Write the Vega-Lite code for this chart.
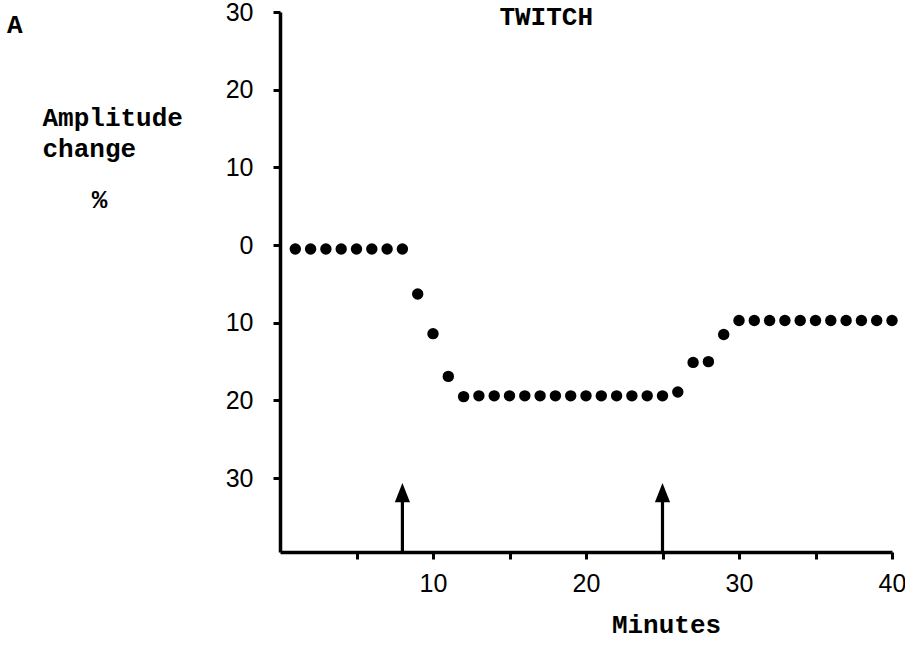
{
  "$schema": "https://vega.github.io/schema/vega-lite/v6.json",
  "width": 612,
  "height": 540,
  "autosize": {"type": "none"},
  "padding": {"left": 280, "top": 12, "right": 13, "bottom": 93},
  "background": "white",
  "title": {
    "text": "A",
    "anchor": "start",
    "frame": "group",
    "orient": "top",
    "dx": -273,
    "dy": 59,
    "offset": 0,
    "baseline": "alphabetic",
    "font": "Liberation Mono",
    "fontSize": 26,
    "fontWeight": "bold",
    "color": "black"
  },
  "config": {
    "view": {"stroke": null},
    "axis": {
      "grid": false,
      "domainColor": "black",
      "domainWidth": 3.5,
      "tickColor": "black",
      "tickWidth": 3,
      "tickSize": 7,
      "labelColor": "black",
      "labelFont": "Liberation Sans",
      "labelFontSize": 25,
      "titleColor": "black",
      "titleFont": "Liberation Mono",
      "titleFontSize": 26,
      "titleFontWeight": "bold"
    }
  },
  "datasets": {
    "points": [
      {"minute": 1, "change": -0.5},
      {"minute": 2, "change": -0.5},
      {"minute": 3, "change": -0.5},
      {"minute": 4, "change": -0.5},
      {"minute": 5, "change": -0.5},
      {"minute": 6, "change": -0.5},
      {"minute": 7, "change": -0.5},
      {"minute": 8, "change": -0.5},
      {"minute": 9, "change": -6.3},
      {"minute": 10, "change": -11.4},
      {"minute": 11, "change": -16.9},
      {"minute": 12, "change": -19.5},
      {"minute": 13, "change": -19.4},
      {"minute": 14, "change": -19.4},
      {"minute": 15, "change": -19.4},
      {"minute": 16, "change": -19.4},
      {"minute": 17, "change": -19.4},
      {"minute": 18, "change": -19.4},
      {"minute": 19, "change": -19.4},
      {"minute": 20, "change": -19.4},
      {"minute": 21, "change": -19.4},
      {"minute": 22, "change": -19.4},
      {"minute": 23, "change": -19.4},
      {"minute": 24, "change": -19.4},
      {"minute": 25, "change": -19.4},
      {"minute": 26, "change": -18.9},
      {"minute": 27, "change": -15.1},
      {"minute": 28, "change": -15.0},
      {"minute": 29, "change": -11.5},
      {"minute": 30, "change": -9.7},
      {"minute": 31, "change": -9.7},
      {"minute": 32, "change": -9.7},
      {"minute": 33, "change": -9.7},
      {"minute": 34, "change": -9.7},
      {"minute": 35, "change": -9.7},
      {"minute": 36, "change": -9.7},
      {"minute": 37, "change": -9.7},
      {"minute": 38, "change": -9.7},
      {"minute": 39, "change": -9.7},
      {"minute": 40, "change": -9.7}
    ],
    "arrows": [
      {"minute": 8, "base": -39.5, "top": -33, "tip": -31.85},
      {"minute": 25, "base": -39.5, "top": -33, "tip": -31.85}
    ],
    "labels": [
      {"label": "TWITCH", "minute": 17.4, "change": 28.3},
      {"label": "%", "minute": -11.8, "change": 4.8}
    ]
  },
  "layer": [
    {
      "data": {"name": "points"},
      "mark": {"type": "point", "shape": "circle", "filled": true, "size": 130, "color": "black", "opacity": 1},
      "encoding": {
        "x": {
          "field": "minute",
          "type": "quantitative",
          "scale": {"domain": [0, 40], "nice": false, "zero": false},
          "axis": {
            "values": [5, 10, 15, 20, 25, 30, 35, 40],
            "labelExpr": "datum.value % 10 === 0 ? datum.label : ''",
            "labelFlush": false,
            "labelPadding": 12,
            "title": "Minutes",
            "titleX": 386,
            "titleY": 80,
            "titleAlign": "center",
            "titleBaseline": "alphabetic"
          }
        },
        "y": {
          "field": "change",
          "type": "quantitative",
          "scale": {"domain": [-39.5, 30], "nice": false, "zero": false},
          "axis": {
            "values": [-30, -20, -10, 0, 10, 20, 30],
            "labelExpr": "format(abs(datum.value), 'd')",
            "labelPadding": 20,
            "labelBaseline": "middle",
            "title": ["Amplitude", "change"],
            "titleAngle": 0,
            "titleAlign": "left",
            "titleBaseline": "alphabetic",
            "titleX": -238,
            "titleY": 113,
            "titleLineHeight": 31
          }
        }
      }
    },
    {
      "data": {"name": "arrows"},
      "mark": {"type": "rule", "color": "black", "strokeWidth": 3.2},
      "encoding": {
        "x": {"field": "minute", "type": "quantitative"},
        "y": {"field": "base", "type": "quantitative"},
        "y2": {"field": "top"}
      }
    },
    {
      "data": {"name": "arrows"},
      "mark": {"type": "point", "shape": "M0,-1.2L-0.95,1.2L0.95,1.2Z", "filled": true, "size": 256, "color": "black", "opacity": 1},
      "encoding": {
        "x": {"field": "minute", "type": "quantitative"},
        "y": {"field": "tip", "type": "quantitative"}
      }
    },
    {
      "data": {"name": "labels"},
      "mark": {"type": "text", "font": "Liberation Mono", "fontSize": 26, "fontWeight": "bold", "align": "center", "baseline": "alphabetic", "color": "black"},
      "encoding": {
        "x": {"field": "minute", "type": "quantitative"},
        "y": {"field": "change", "type": "quantitative"},
        "text": {"field": "label"}
      }
    }
  ]
}
